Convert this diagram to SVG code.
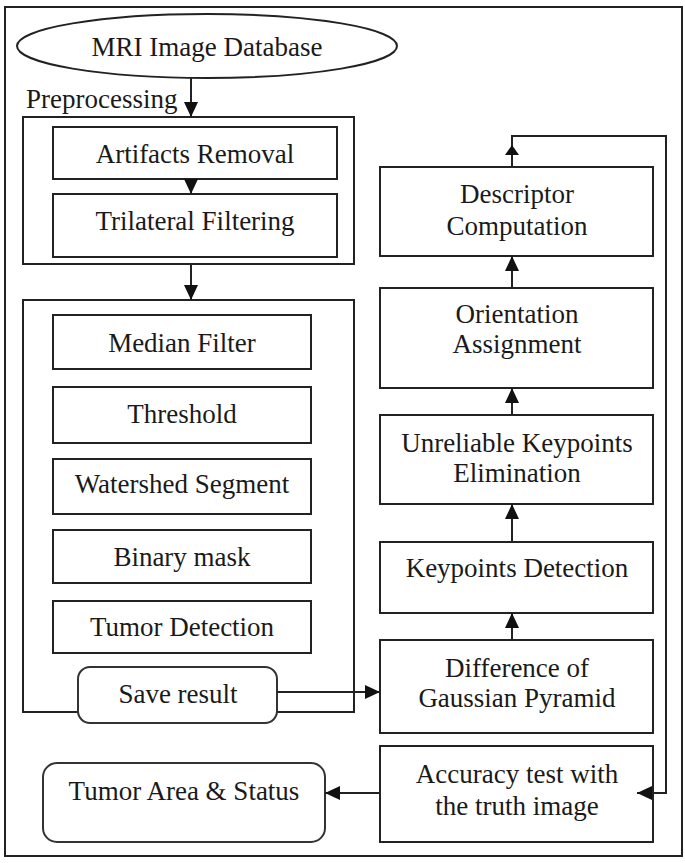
<svg xmlns="http://www.w3.org/2000/svg" width="685" height="863" viewBox="0 0 685 863">
<style>
.box{fill:#fff;stroke:#222;stroke-width:2}
.rbox{fill:#fff;stroke:#333;stroke-width:2}
text{font-family:'Liberation Serif','DejaVu Serif',Tinos,'Times New Roman',serif;font-size:27px;fill:#1a1a1a}
.t{text-anchor:middle}
.c{fill:none;stroke:#222;stroke-width:2}
</style>
<defs>
<marker id="ah" viewBox="0 0 15 14" refX="15" refY="7" markerWidth="15" markerHeight="14" markerUnits="userSpaceOnUse" orient="auto">
<path d="M0,0 L15,7 L0,14 z" fill="#111"/>
</marker>
</defs>
<rect x="0" y="0" width="685" height="863" fill="#fff"/>
<rect x="5" y="7" width="677" height="849" fill="none" stroke="#222" stroke-width="2"/>

<g id="mri-db">
<ellipse cx="207" cy="46" rx="190" ry="32" class="box"/>
<text x="207" y="56" class="t">MRI Image Database</text>
</g>
<g id="preprocessing">
<text x="26" y="108">Preprocessing</text>
<rect x="23" y="117" width="331" height="147" class="box"/>
</g>
<g id="artifacts-removal">
<rect x="53" y="127" width="284" height="52" class="box"/>
<text x="195" y="163" class="t">Artifacts Removal</text>
</g>
<g id="trilateral-filtering">
<rect x="53" y="194" width="284" height="63" class="box"/>
<text x="195" y="230" class="t">Trilateral Filtering</text>
</g>
<g id="segmentation">
<rect x="23" y="300" width="331" height="412" class="box"/>
</g>
<g id="median-filter">
<rect x="53" y="315" width="258" height="54" class="box"/>
<text x="182" y="352" class="t">Median Filter</text>
</g>
<g id="threshold">
<rect x="53" y="387" width="258" height="56" class="box"/>
<text x="182" y="423" class="t">Threshold</text>
</g>
<g id="watershed">
<rect x="53" y="459" width="258" height="55" class="box"/>
<text x="182" y="493" class="t">Watershed Segment</text>
</g>
<g id="binary-mask">
<rect x="53" y="530" width="258" height="53" class="box"/>
<text x="182" y="566" class="t">Binary mask</text>
</g>
<g id="tumor-detection">
<rect x="53" y="601" width="258" height="52" class="box"/>
<text x="182" y="636" class="t">Tumor Detection</text>
</g>
<g id="save-result">
<rect x="78" y="667" width="199" height="56" rx="12" class="rbox"/>
<text x="178" y="703" class="t">Save result</text>
</g>
<g id="tumor-area">
<rect x="43" y="763" width="282" height="79" rx="14" class="rbox"/>
<text x="184" y="800" class="t">Tumor Area &amp; Status</text>
</g>
<g id="descriptor">
<rect x="380" y="167" width="273" height="89" class="box"/>
<text x="517" y="203" class="t">Descriptor</text>
<text x="517" y="235" class="t">Computation</text>
</g>
<g id="orientation">
<rect x="380" y="288" width="273" height="100" class="box"/>
<text x="517" y="323" class="t">Orientation</text>
<text x="517" y="353" class="t">Assignment</text>
</g>
<g id="unreliable">
<rect x="380" y="415" width="273" height="89" class="box"/>
<text x="517" y="452" class="t">Unreliable Keypoints</text>
<text x="517" y="482" class="t">Elimination</text>
</g>
<g id="keypoints-detection">
<rect x="380" y="542" width="273" height="71" class="box"/>
<text x="517" y="577" class="t">Keypoints Detection</text>
</g>
<g id="dog">
<rect x="380" y="640" width="273" height="93" class="box"/>
<text x="517" y="677" class="t">Difference of</text>
<text x="517" y="707" class="t">Gaussian Pyramid</text>
</g>
<g id="accuracy">
<rect x="380" y="746" width="273" height="96" class="box"/>
<text x="517" y="783" class="t">Accuracy test with</text>
<text x="517" y="815" class="t">the truth image</text>
</g>

<g id="connectors">
<line x1="191" y1="78" x2="191" y2="117" class="c" marker-end="url(#ah)"/>
<line x1="191" y1="179" x2="191" y2="194" class="c" marker-end="url(#ah)"/>
<line x1="191" y1="264" x2="191" y2="300" class="c" marker-end="url(#ah)"/>
<line x1="277" y1="692" x2="380" y2="692" class="c" marker-end="url(#ah)"/>
<line x1="512" y1="640" x2="512" y2="613" class="c" marker-end="url(#ah)"/>
<line x1="512" y1="542" x2="512" y2="504" class="c" marker-end="url(#ah)"/>
<line x1="512" y1="415" x2="512" y2="388" class="c" marker-end="url(#ah)"/>
<line x1="512" y1="288" x2="512" y2="256" class="c" marker-end="url(#ah)"/>
<path d="M512,167 V136 H666 V793 H637" class="c" marker-end="url(#ah)"/>
<polygon points="505,155 512,145 519,155" fill="#111"/>
<line x1="380" y1="793" x2="325" y2="793" class="c" marker-end="url(#ah)"/>
</g>
</svg>
